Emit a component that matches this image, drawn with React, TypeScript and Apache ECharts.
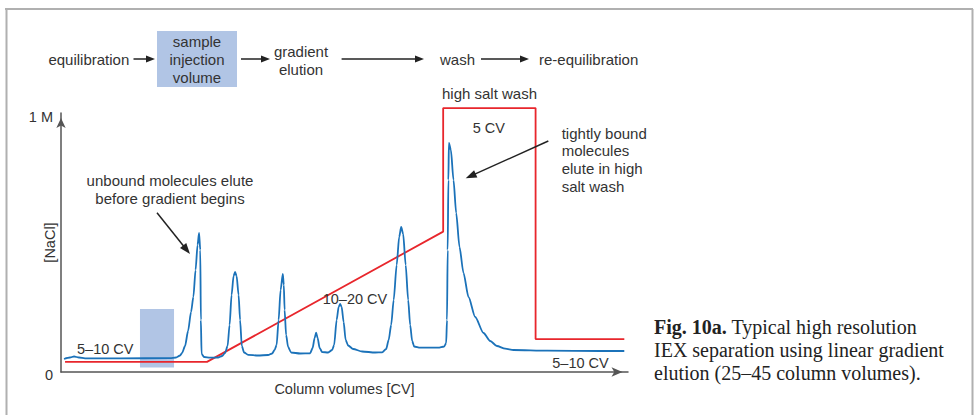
import React, { useEffect, useRef } from "react";
import * as echarts from "echarts";

// Salt gradient profile: [column volume (CV), NaCl (M)]
const GRADIENT: [number, number][] = [
  [0.22, 0.039], [7.93, 0.039], [20.76, 0.542], [20.76, 1.019],
  [25.78, 1.019], [25.78, 0.127], [30.6, 0.127],
];

// Chromatogram (UV signal, relative units on the same scale)
const CHROMATOGRAM: [number, number][] = [
  [0.163, 0.0502], [0.489, 0.056], [0.707, 0.0598], [0.978, 0.056], [1.304, 0.0529],
  [3.207, 0.0529], [5.924, 0.0533], [6.25, 0.056], [6.467, 0.0637], [6.576, 0.0734],
  [6.739, 0.1004], [6.902, 0.1583], [7.065, 0.2317], [7.19, 0.2896], [7.31, 0.3938],
  [7.418, 0.4903], [7.5, 0.5367], [7.565, 0.471], [7.598, 0.2008], [7.636, 0.0695],
  [7.772, 0.0579], [8.098, 0.0556], [8.533, 0.056], [8.75, 0.0618], [8.913, 0.0734],
  [9.049, 0.1004], [9.158, 0.1815], [9.266, 0.2973], [9.375, 0.3707], [9.457, 0.3861],
  [9.538, 0.3707], [9.647, 0.2973], [9.728, 0.2008], [9.821, 0.1004], [9.946, 0.0753],
  [10.163, 0.0664], [10.707, 0.0637], [11.25, 0.0656], [11.467, 0.0714], [11.603, 0.0849],
  [11.712, 0.1042], [11.821, 0.2008], [11.929, 0.3166], [12.049, 0.3784], [12.103, 0.3359],
  [12.147, 0.2394], [12.228, 0.1429], [12.337, 0.0965], [12.5, 0.0753], [12.989, 0.0714],
  [13.533, 0.0722], [13.668, 0.0927], [13.777, 0.1313], [13.859, 0.1517], [13.94, 0.1313],
  [14.049, 0.0927], [14.185, 0.0772], [14.511, 0.0753], [14.728, 0.0849], [14.837, 0.1042],
  [14.973, 0.2008], [15.082, 0.251], [15.163, 0.2625], [15.245, 0.251], [15.353, 0.1931],
  [15.462, 0.1236], [15.598, 0.1023], [15.87, 0.0888], [16.359, 0.0792], [17.065, 0.0753],
  [17.446, 0.0761], [17.663, 0.0888], [17.799, 0.1236], [17.935, 0.1815], [18.071, 0.278],
  [18.234, 0.4131], [18.37, 0.5212], [18.478, 0.5598], [18.587, 0.5328], [18.723, 0.4131],
  [18.859, 0.278], [18.967, 0.1815], [19.076, 0.1197], [19.185, 0.0985], [19.511, 0.0938],
  [20.489, 0.0938], [20.815, 0.0985], [20.924, 0.112], [20.967, 0.2008], [21.005, 0.471],
  [21.043, 0.7413], [21.071, 0.8842], [21.179, 0.8571], [21.321, 0.7413], [21.467, 0.6139],
  [21.647, 0.4826], [21.864, 0.3822], [22.136, 0.2896], [22.5, 0.2124], [22.951, 0.1506],
  [23.315, 0.1197], [23.679, 0.1004], [24.13, 0.09], [24.582, 0.0849], [26.413, 0.0822],
  [29.293, 0.0811], [30.598, 0.0811],
];

// Sample injection volume band: [cv start, cv end], [low, high]
const INJECTION_CV: [number, number] = [4.29, 6.14];
const INJECTION_Y: [number, number] = [0.017, 0.243];

const Y_TICKS: Record<number, string> = { 0: "{z|0}", 1: "{m|1 M}" };
const X_MAX = 30.8;

const SANS = "'Liberation Sans', Arial, Helvetica, sans-serif";
const SERIF = "'Liberation Serif', 'Times New Roman', serif";
const TEXT = "#333";
const BLUE_FILL = "#b1c5e5";

function txt(x: number, y: number, text: string, extra: any = {}) {
  return {
    type: "text",
    x,
    y,
    z: 10,
    silent: true,
    style: {
      text,
      fontFamily: SANS,
      fontSize: 15,
      fill: TEXT,
      align: "left",
      verticalAlign: "middle",
      ...extra,
    },
  };
}

function arrow(x1: number, y1: number, x2: number, y2: number, head = 10, half = 3.6, color = "#222") {
  const dx = x2 - x1;
  const dy = y2 - y1;
  const len = Math.sqrt(dx * dx + dy * dy);
  const ux = dx / len;
  const uy = dy / len;
  const bx = x2 - ux * head;
  const by = y2 - uy * head;
  const px = -uy * half;
  const py = ux * half;
  return [
    {
      type: "line",
      z: 10,
      silent: true,
      shape: { x1, y1, x2: bx + ux * 1, y2: by + uy * 1 },
      style: { stroke: color, lineWidth: 1.5 },
    },
    {
      type: "polygon",
      z: 10,
      silent: true,
      shape: { points: [[x2, y2], [bx + px, by + py], [bx - px, by - py]] },
      style: { fill: color },
    },
  ];
}

function frameLine(x1: number, y1: number, x2: number, y2: number) {
  return {
    type: "line",
    silent: true,
    shape: { x1, y1, x2, y2 },
    style: { stroke: "#b0b0b0", lineWidth: 2 },
  };
}

export default function App() {
  const ref = useRef<HTMLDivElement>(null);

  useEffect(() => {
    if (!ref.current) return;
    const chart = echarts.init(ref.current, undefined, { renderer: "svg" });

    const graphic: any[] = [
      frameLine(5, 9, 973, 9),
      frameLine(6.5, 9, 6.5, 415),
      frameLine(972.5, 9, 972.5, 415),
      // flow diagram
      { type: "rect", silent: true, shape: { x: 157, y: 31, width: 80, height: 56 }, style: { fill: BLUE_FILL } },
      txt(48.4, 59, "equilibration"),
      ...arrow(133.5, 59, 155, 59, 9, 3.5),
      txt(197, 59.5, "sample\ninjection\nvolume", { align: "center", lineHeight: 18 }),
      ...arrow(241, 59, 270, 59, 9, 3.5),
      txt(301, 60.5, "gradient\nelution", { align: "center", lineHeight: 17.6 }),
      ...arrow(341.6, 59, 424, 59, 9, 3.5),
      txt(440, 59, "wash"),
      ...arrow(481, 59, 529, 59, 9, 3.5),
      txt(539, 59, "re-equilibration"),
      txt(442, 93.3, "high salt wash"),
      // annotations
      txt(170, 189.2, "unbound molecules elute\nbefore gradient begins", { align: "center", lineHeight: 18.3 }),
      ...arrow(157, 212.7, 190, 254, 11, 4),
      txt(77, 349.3, "5\u201310 CV", { fontSize: 14.5 }),
      txt(322.7, 299.3, "10\u201320 CV", { fontSize: 14.5 }),
      txt(472.7, 128.3, "5 CV", { fontSize: 14.5 }),
      txt(561.7, 159.7, "tightly bound\nmolecules\nelute in high\nsalt wash", { lineHeight: 17.6 }),
      ...arrow(548.3, 141, 465.7, 178.3, 11, 4),
      txt(552.3, 362.7, "5\u201310 CV", { fontSize: 14.5 }),
      // caption
      {
        type: "text",
        x: 654,
        y: 350,
        z: 10,
        silent: true,
        style: {
          text:
            "{b|Fig. 10a.} Typical high resolution\nIEX separation using linear gradient\nelution (25\u201345 column volumes).",
          fontFamily: SERIF,
          fontSize: 20,
          fill: "#222",
          lineHeight: 22.7,
          align: "left",
          verticalAlign: "middle",
          rich: {
            b: { fontFamily: SERIF, fontSize: 20, fontWeight: "bold", fill: "#222", lineHeight: 22.7 },
          },
        },
      },
    ];

    chart.setOption({
      animation: false,
      grid: { left: 61, right: 346, top: 113, bottom: 43, containLabel: false, outerBoundsMode: "none" },
      xAxis: {
        type: "value",
        min: 0,
        max: X_MAX,
        name: "Column volumes [CV]",
        nameLocation: "middle",
        nameGap: 9,
        nameMoveOverlap: false,
        nameTextStyle: { fontFamily: SANS, fontSize: 14.5, color: TEXT },
        axisLine: {
          show: true,
          lineStyle: { color: "#555", width: 1.5 },
          symbol: ["none", "arrow"],
          symbolSize: [7, 11],
          symbolOffset: [0, -5.5],
        },
        axisTick: { show: false },
        axisLabel: { show: false },
        splitLine: { show: false },
      },
      yAxis: {
        type: "value",
        min: 0,
        max: 1,
        interval: 1,
        name: "[NaCl]",
        nameLocation: "middle",
        nameRotate: 90,
        nameGap: 4,
        nameMoveOverlap: false,
        nameTextStyle: { fontFamily: SANS, fontSize: 14.5, color: TEXT },
        axisLine: {
          show: true,
          lineStyle: { color: "#555", width: 1.5 },
          symbol: ["none", "arrow"],
          symbolSize: [7, 10],
          symbolOffset: [0, -5],
        },
        axisTick: { show: false },
        axisLabel: {
          show: true,
          margin: 8,
          fontFamily: SANS,
          fontSize: 14.5,
          color: TEXT,
          formatter: (v: number) => Y_TICKS[v] ?? "",
          rich: {
            m: { fontFamily: SANS, fontSize: 14.5, color: TEXT, padding: [8, 0, 0, 0] },
            z: { fontFamily: SANS, fontSize: 14.5, color: TEXT, padding: [6, 0, 0, 0] },
          },
        },
        splitLine: { show: false },
      },
      series: [
        {
          type: "line",
          name: "NaCl gradient",
          data: GRADIENT,
          showSymbol: false,
          clip: false,
          lineStyle: { color: "#e8262c", width: 1.8 },
          itemStyle: { color: "#e8262c" },
          z: 2,
          markArea: {
            silent: true,
            itemStyle: { color: BLUE_FILL },
            data: [[{ coord: [INJECTION_CV[0], INJECTION_Y[0]] }, { coord: [INJECTION_CV[1], INJECTION_Y[1]] }]],
          },
        },
        {
          type: "line",
          name: "UV",
          data: CHROMATOGRAM,
          showSymbol: false,
          clip: false,
          smooth: 0.25,
          smoothMonotone: "x",
          lineStyle: { color: "#1b72b9", width: 1.8 },
          itemStyle: { color: "#1b72b9" },
          z: 3,
        },
      ],
      graphic,
    });

    return () => chart.dispose();
  }, []);

  return (
    <div
      ref={ref}
      style={{ position: "fixed", left: 0, top: 0, width: 974, height: 415, background: "#fff" }}
    />
  );
}
